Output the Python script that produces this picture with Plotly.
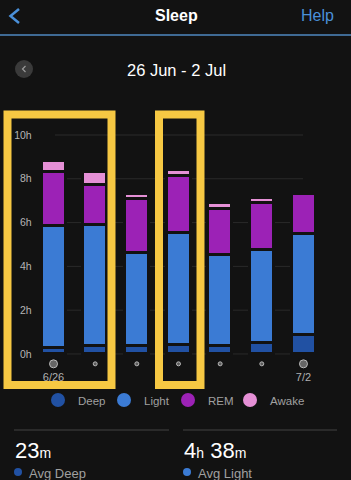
import plotly.graph_objects as go

W, H = 351, 480

# ---- data ----
days = ["6/26", "6/27", "6/28", "6/29", "6/30", "7/1", "7/2"]
tick_labels = ["6/26", "", "", "", "", "", "7/2"]
deep = [0.27, 0.34, 0.34, 0.41, 0.37, 0.48, 0.87]
light = [5.57, 5.56, 4.26, 5.09, 4.15, 4.28, 4.61]
rem = [2.46, 1.82, 2.48, 2.64, 2.10, 2.14, 1.84]
awake = [0.50, 0.58, 0.20, 0.25, 0.28, 0.20, 0.00]
y_ticks = [0, 2, 4, 6, 8, 10]
y_tick_text = ["0h", "2h", "4h", "6h", "8h", "10h"]
stage_names = ["Deep", "Light", "REM", "Awake"]
stage_colors = ["#2151a3", "#3b7bd4", "#9c22b6", "#e590d6"]

BG = "#121212"
FONT = "Liberation Sans, Arial, sans-serif"


def px(x):
    return x / W


def py(y):
    return 1 - y / H


xs = list(range(len(days)))
fig = go.Figure()

for name, vals, col in zip(stage_names, [deep, light, rem, awake], stage_colors):
    fig.add_trace(go.Bar(
        x=xs, y=vals, name=name, width=0.576,
        marker=dict(color=col, line=dict(color=BG, width=3)),
        showlegend=False, hoverinfo="skip",
    ))

# day dots under bars
fig.add_trace(go.Scatter(
    x=xs, y=[-0.45] * len(xs), mode="markers",
    marker=dict(size=[8, 4, 4, 4, 4, 4, 8],
                color=["#8a8a8a", "#7a7a7a", "#7a7a7a", "#7a7a7a", "#7a7a7a", "#7a7a7a", "#8a8a8a"]),
    showlegend=False, hoverinfo="skip",
))

# legend entries as circles, each in its own legend box
legend_ids = ["legend", "legend2", "legend3", "legend4"]
legend_centers = [58, 124, 188, 250]
for name, col, lid in zip(stage_names, stage_colors, legend_ids):
    fig.add_trace(go.Scatter(
        x=[None], y=[None], mode="markers", name=name, legend=lid,
        marker=dict(size=14, color=col, symbol="circle"),
        showlegend=True,
    ))

shapes = []
# grid lines
for t in y_ticks:
    shapes.append(dict(type="line", xref="paper", yref="y",
                       x0=px(55), x1=px(303), y0=t, y1=t,
                       line=dict(color="#2a2a2a", width=1), layer="below"))
# header separator
shapes.append(dict(type="line", xref="paper", yref="paper",
                   x0=0, x1=1, y0=py(35), y1=py(35),
                   line=dict(color="#3f6a94", width=2)))
# back chevron
shapes.append(dict(type="path", xref="paper", yref="paper",
                   path=f"M {px(19)},{py(9)} L {px(10.5)},{py(16)} L {px(19)},{py(23)}",
                   line=dict(color="#4a90d9", width=2.5)))
# grey circle button
shapes.append(dict(type="circle", xref="paper", yref="paper",
                   x0=px(15), x1=px(33), y0=py(60), y1=py(78),
                   fillcolor="#3a3a3a", line=dict(width=0)))
shapes.append(dict(type="path", xref="paper", yref="paper",
                   path=f"M {px(25.5)},{py(66)} L {px(22.5)},{py(69)} L {px(25.5)},{py(72)}",
                   line=dict(color="#9a9a9a", width=1.2)))
# yellow highlight boxes
for x0, x1 in [(7.5, 111.5), (159, 200.5)]:
    shapes.append(dict(type="rect", xref="paper", yref="paper",
                       x0=px(x0), x1=px(x1), y0=py(114.5), y1=py(385),
                       line=dict(color="#f6c843", width=8), fillcolor="rgba(0,0,0,0)"))
# bottom separators
for x0, x1 in [(14, 169), (183, 337)]:
    shapes.append(dict(type="line", xref="paper", yref="paper",
                       x0=px(x0), x1=px(x1), y0=py(430), y1=py(430),
                       line=dict(color="#333333", width=1.5)))
# avg dots
shapes.append(dict(type="circle", xref="paper", yref="paper",
                   x0=px(14), x1=px(22), y0=py(468), y1=py(476),
                   fillcolor="#2151a3", line=dict(width=0)))
shapes.append(dict(type="circle", xref="paper", yref="paper",
                   x0=px(183), x1=px(191), y0=py(468), y1=py(476),
                   fillcolor="#3b7bd4", line=dict(width=0)))


def ann(text, x, y, size, color, xanchor="center"):
    return dict(text=text, x=px(x), y=py(y), xref="paper", yref="paper",
                xanchor=xanchor, yanchor="middle", showarrow=False,
                font=dict(size=size, color=color, family=FONT))


annotations = [
    ann("<b>Sleep</b>", 176, 15, 16, "#ffffff"),
    ann("Help", 336, 15, 16, "#4a90d9", "right"),
    ann("26 Jun - 2 Jul", 176, 70, 16.5, "#ffffff"),
    ann("23<span style='font-size:14px'>m</span>", 13, 450, 22, "#ffffff", "left"),
    ann("4<span style='font-size:14px'>h</span> 38<span style='font-size:14px'>m</span>",
        182, 450, 22, "#ffffff", "left"),
    ann("Avg Deep", 27, 473, 13, "#a0a0a0", "left"),
    ann("Avg Light", 196, 473, 13, "#a0a0a0", "left"),
]

legend_layout = {}
for lid, c in zip(legend_ids, legend_centers):
    legend_layout[lid] = dict(
        orientation="h", x=px(c - 20), xanchor="left", y=py(400), yanchor="middle",
        font=dict(size=11.5, color="#a0a0a0"), bgcolor="rgba(0,0,0,0)",
        itemclick=False, itemdoubleclick=False,
    )

fig.update_layout(
    width=W, height=H, autosize=False,
    margin=dict(l=0, r=0, t=0, b=0, pad=0),
    paper_bgcolor=BG, plot_bgcolor=BG,
    barmode="stack", bargap=0,
    font=dict(family=FONT, color="#b0b0b0"),
    xaxis=dict(domain=[px(32.7), px(324.3)], range=[-0.5, 6.5],
               tickvals=xs, ticktext=tick_labels, showgrid=False, zeroline=False,
               showline=False, ticks="", tickfont=dict(size=11, color="#b0b0b0"),
               fixedrange=True),
    yaxis=dict(domain=[py(369.3), py(113.1)], range=[-0.7, 11],
               tickvals=y_ticks, ticktext=y_tick_text, showgrid=False, zeroline=False,
               showline=False, ticks="", tickfont=dict(size=10.5, color="#b5b5b5"),
               fixedrange=True),
    shapes=shapes, annotations=annotations,
    showlegend=True,
    **legend_layout,
)

fig.write_html("out.html", config={"displayModeBar": False})
